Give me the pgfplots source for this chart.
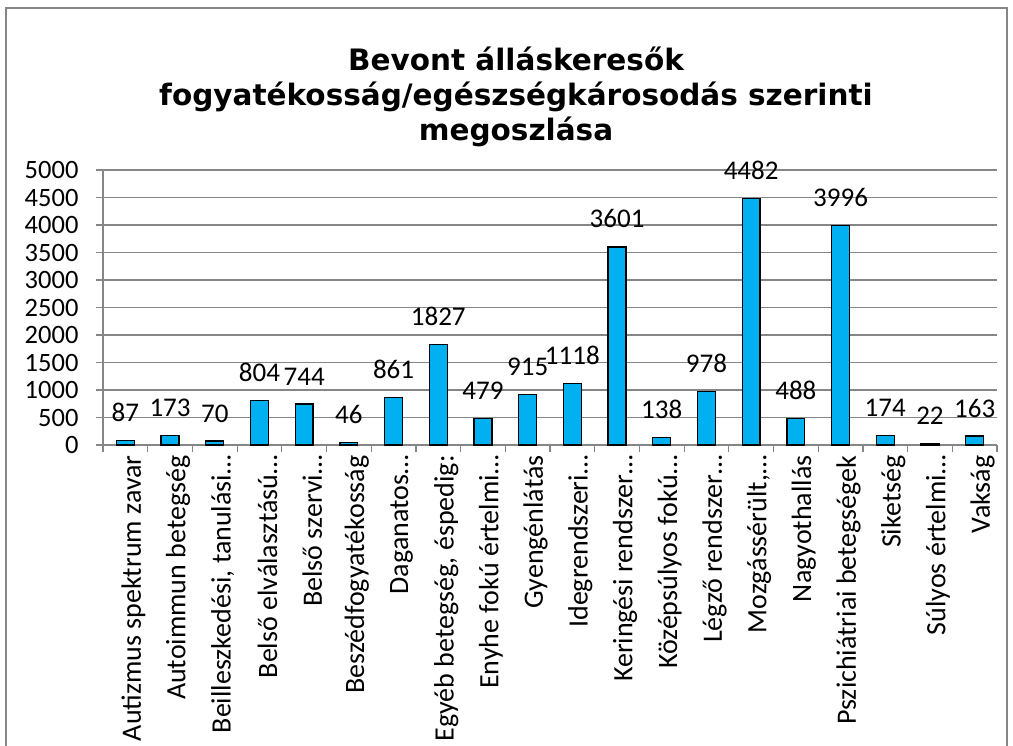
\documentclass[border=0pt]{standalone}
\usepackage{pgfplots}
\pgfplotsset{compat=1.18}
\usepackage{fontspec}
\newfontfamily\carlito{Carlito}
\newfontfamily\titlefont{DejaVu Sans}
\definecolor{framegray}{RGB}{134,134,134}
\definecolor{gridgray}{RGB}{134,134,134}
\definecolor{barblue}{RGB}{0,176,240}
\begin{document}
\begin{tikzpicture}[x=1pt,y=1pt]
\useasboundingbox (0,0) rectangle (1013,746);
\draw[framegray, line width=1.5pt] (6,-10) -- (6,738) -- (1007,738) -- (1007,-10);
\node[align=center, font={\titlefont\bfseries\fontsize{29.5}{35}\selectfont}] at (516,649)
  {Bevont álláskeresők\\fogyatékosság/egészségkárosodás szerinti\\megoszlása};
\begin{axis}[
  at={(103pt,301pt)}, anchor=south west,
  scale only axis, width=894pt, height=275pt,
  xmin=-0.5, xmax=19.5, ymin=0, ymax=5000,
  ybar, bar width=0.4,
  axis lines=left,
  axis line style={draw=gridgray, line width=1.2pt, -},
  ytick={0,500,...,5000},
  ymajorgrids,
  grid style={draw=gridgray, line width=1.2pt},
  tick align=outside,
  major tick length=7pt,
  minor tick length=7pt,
  ytick style={draw=gridgray, line width=1.2pt},
  xtick={0,...,19},
  xtick style={draw=none},
  minor xtick={-0.5,0.5,...,19.5},
  minor x tick style={draw=gridgray, line width=1.2pt},
  /pgf/number format/1000 sep={},
  /pgf/number format/assume math mode=true,
  yticklabel style={font={\carlito\fontsize{26.5}{30}\selectfont}, xshift=-14pt},
  xticklabel style={font={\carlito\fontsize{28}{30}\selectfont}, rotate=90, anchor=east, yshift=-8pt},
  xticklabels={Autizmus spektrum zavar, Autoimmun betegség, {Beilleszkedési, tanulási…}, Belső elválasztású…, Belső szervi…, Beszédfogyatékosság, Daganatos…, {Egyéb betegség, éspedig:}, Enyhe fokú értelmi…, Gyengénlátás, Idegrendszeri…, Keringési rendszer…, Középsúlyos fokú…, Légző rendszer…, {Mozgássérült,…}, Nagyothallás, Pszichiátriai betegségek, Siketség, Súlyos értelmi…, Vakság},
  nodes near coords,
  every node near coord/.append style={font={\carlito\fontsize{27}{30}\selectfont}, anchor=base, yshift=19pt, text=black},
  clip=false,
]
\addplot[fill=barblue, draw=black, line width=1.3pt] coordinates {
(0,87) (1,173) (2,70) (3,804) (4,744) (5,46) (6,861) (7,1827) (8,479) (9,915)
(10,1118) (11,3601) (12,138) (13,978) (14,4482) (15,488) (16,3996) (17,174) (18,22) (19,163)};
\end{axis}
\end{tikzpicture}
\end{document}
